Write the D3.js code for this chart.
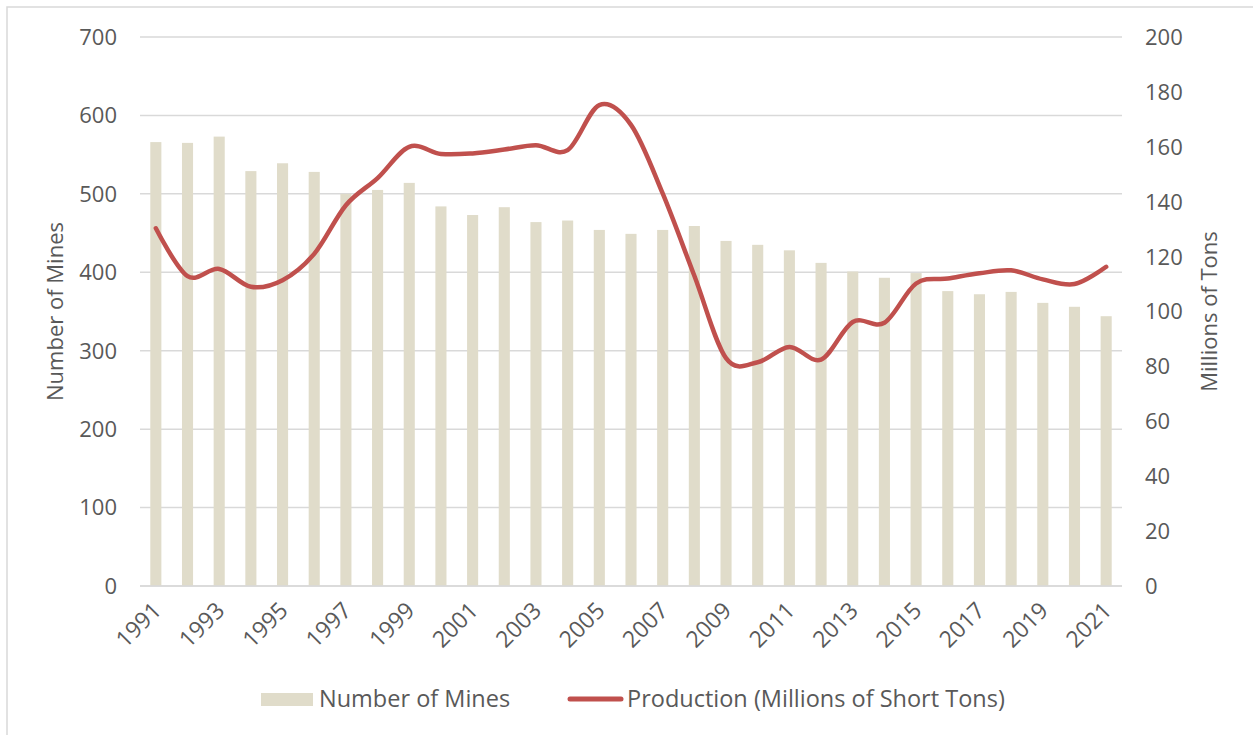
<!DOCTYPE html>
<html>
<head>
<meta charset="utf-8">
<script src="https://cdn.jsdelivr.net/npm/d3@7"></script>
<style>
  body { margin: 0; background: #fff; }
  text { font-family: "Century Gothic", "Open Sans", sans-serif; fill: #595959; }
</style>
</head>
<body>
<svg class="chart" width="1253" height="735"></svg>
<script>
// mines vs production, two y axes

var years = d3.range(1991, 2022);
var mines = [566, 565, 573, 529, 539, 528, 500, 505, 514, 484, 473, 483, 464, 466, 454, 449,
             454, 459, 440, 435, 428, 412, 401, 393, 399, 376, 372, 375, 361, 356, 344];
var production = [130.3, 112.9, 115.5, 109, 111.4, 121, 138.7, 148.6, 160, 157.4, 157.6, 159,
                  160.6, 158.8, 175.2, 168, 143, 113, 83, 81.5, 87.1, 82.5, 96.2, 95.9,
                  110.2, 112, 113.9, 115, 111.7, 110, 116.3];
var leftTicks = [0, 100, 200, 300, 400, 500, 600, 700];
var rightTicks = [0, 20, 40, 60, 80, 100, 120, 140, 160, 180, 200];
var xLabels = years.filter(function (d) { return (d - 1991) % 2 == 0; });

var svg = d3.select(".chart"),
    width = +svg.attr("width"),
    height = +svg.attr("height");

// plot area (not "top": that name is taken by window.top)
var pLeft = 140, pRight = 1122, pTop = 37, pBottom = 586;
var barColor = "#E0DCCA", lineColor = "#C0504D", gridColor = "#D9D9D9";

// outer border (right/bottom edges fall off the canvas)
svg.append("rect")
   .attr("x", 7).attr("y", 7)
   .attr("width", 1260).attr("height", 760)
   .attr("fill", "none")
   .attr("stroke", gridColor)
   .attr("stroke-width", 1.5);

var x = d3.scaleBand().domain(years).range([pLeft, pRight])
          .paddingInner(0.65).paddingOuter(0.325);
var yL = d3.scaleLinear().domain([0, 700]).range([pBottom, pTop]);
var yR = d3.scaleLinear().domain([0, 200]).range([pBottom, pTop]);

// gridlines
svg.append("g").selectAll("line")
   .data(leftTicks).enter().append("line")
   .attr("x1", pLeft).attr("x2", pRight)
   .attr("y1", d => yL(d)).attr("y2", d => yL(d))
   .attr("stroke", gridColor).attr("stroke-width", 1.5);

// bars
svg.append("g").selectAll("rect")
   .data(years).enter().append("rect")
   .attr("x", d => x(d))
   .attr("width", x.bandwidth())
   .attr("y", (d, i) => yL(mines[i]))
   .attr("height", (d, i) => yL(0) - yL(mines[i]))
   .attr("fill", barColor);

// bottom axis line again on top of the bars
svg.append("line")
   .attr("x1", pLeft).attr("x2", pRight)
   .attr("y1", yL(0)).attr("y2", yL(0))
   .attr("stroke", gridColor).attr("stroke-width", 1.5);

// production line, smoothed like excel
var line = d3.line()
   .x((d, i) => x(years[i]) + x.bandwidth() / 2)
   .y(d => yR(d))
   .curve(d3.curveCardinal.tension(0));

svg.append("path")
   .datum(production)
   .attr("d", line)
   .attr("fill", "none")
   .attr("stroke", lineColor)
   .attr("stroke-width", 4.5)
   .attr("stroke-linecap", "round")
   .attr("stroke-linejoin", "round");

// left tick labels
svg.append("g").selectAll("text")
   .data(leftTicks).enter().append("text")
   .attr("x", pLeft - 23)
   .attr("y", d => yL(d))
   .attr("dy", "0.36em")
   .attr("text-anchor", "end")
   .style("font-size", "22px")
   .text(d => d);

// right tick labels
svg.append("g").selectAll("text")
   .data(rightTicks).enter().append("text")
   .attr("x", pRight + 23)
   .attr("y", d => yR(d))
   .attr("dy", "0.36em")
   .attr("text-anchor", "start")
   .style("font-size", "22px")
   .text(d => d);

// x labels, rotated
svg.append("g").selectAll("text")
   .data(xLabels).enter().append("text")
   .attr("transform", d => "translate(" + (x(d) + x.bandwidth() / 2 + 1) + "," + 606 + ") rotate(-45)")
   .attr("text-anchor", "end")
   .attr("dy", "0.36em")
   .style("font-size", "23px")
   .text(d => d);

// axis titles
svg.append("text")
   .attr("transform", "translate(55," + ((pTop + pBottom) / 2) + ") rotate(-90)")
   .attr("text-anchor", "middle")
   .attr("dy", "0.36em")
   .style("font-size", "22px")
   .text("Number of Mines");

svg.append("text")
   .attr("transform", "translate(1209," + ((pTop + pBottom) / 2) + ") rotate(-90)")
   .attr("text-anchor", "middle")
   .attr("dy", "0.36em")
   .style("font-size", "22px")
   .text("Millions of Tons");

// legend
var legend = svg.append("g");
legend.append("rect")
   .attr("x", 261).attr("y", 693)
   .attr("width", 52).attr("height", 13)
   .attr("fill", barColor);
legend.append("text")
   .attr("x", 319).attr("y", 707)
   .style("font-size", "23.5px")
   .text("Number of Mines");
legend.append("line")
   .attr("x1", 570).attr("x2", 621)
   .attr("y1", 699).attr("y2", 699)
   .attr("stroke", lineColor)
   .attr("stroke-width", 5)
   .attr("stroke-linecap", "round");
legend.append("text")
   .attr("x", 627).attr("y", 707)
   .style("font-size", "23.5px")
   .text("Production (Millions of Short Tons)");
</script>
</body>
</html>
